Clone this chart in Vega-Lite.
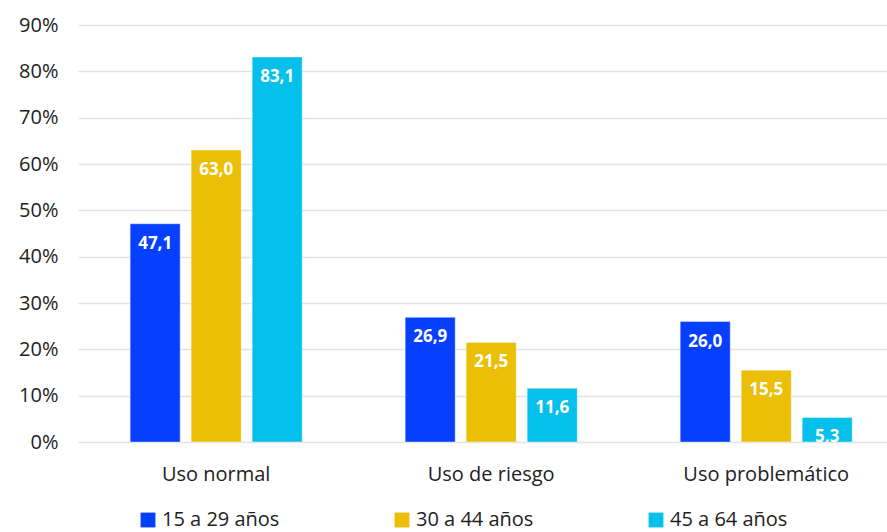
{
  "$schema": "https://vega.github.io/schema/vega-lite/v6.json",
  "width": 809,
  "height": 417,
  "autosize": {"type": "none"},
  "padding": {"left": 78, "top": 25, "right": 0, "bottom": 90},
  "background": "white",
  "config": {
    "view": {"stroke": null},
    "font": "Open Sans",
    "locale": {"number": {"decimal": ",", "thousands": ".", "grouping": [3], "currency": ["", " €"]}}
  },
  "data": {
    "values": [
      {"uso": "Uso normal", "edad": "15 a 29 años", "valor": 47.1},
      {"uso": "Uso normal", "edad": "30 a 44 años", "valor": 63.0},
      {"uso": "Uso normal", "edad": "45 a 64 años", "valor": 83.1},
      {"uso": "Uso de riesgo", "edad": "15 a 29 años", "valor": 26.9},
      {"uso": "Uso de riesgo", "edad": "30 a 44 años", "valor": 21.5},
      {"uso": "Uso de riesgo", "edad": "45 a 64 años", "valor": 11.6},
      {"uso": "Uso problemático", "edad": "15 a 29 años", "valor": 26.0},
      {"uso": "Uso problemático", "edad": "30 a 44 años", "valor": 15.5},
      {"uso": "Uso problemático", "edad": "45 a 64 años", "valor": 5.3}
    ]
  },
  "encoding": {
    "x": {
      "field": "uso", "type": "nominal", "sort": null,
      "scale": {"paddingInner": 0.3745, "paddingOuter": 0.158, "align": 0.6},
      "axis": {"title": null, "labelAngle": 0, "labelFontSize": 20, "labelColor": "#222222", "domain": false, "ticks": false, "labelPadding": 22}
    },
    "xOffset": {"field": "edad", "type": "nominal", "sort": null, "scale": {"paddingInner": 0.18, "paddingOuter": 0}},
    "y": {
      "field": "valor", "type": "quantitative",
      "scale": {"domain": [0, 90], "nice": false},
      "axis": {"title": null, "values": [0, 10, 20, 30, 40, 50, 60, 70, 80, 90], "labelExpr": "datum.value + '%'", "labelFontSize": 20, "labelColor": "#222222", "domain": false, "ticks": false, "labelPadding": 20, "gridColor": "#e3e3e3", "gridWidth": 1.5}
    }
  },
  "layer": [
    {
      "mark": {"type": "bar", "stroke": "white", "strokeOpacity": 0.4, "strokeWidth": 1},
      "encoding": {
        "color": {
          "field": "edad", "type": "nominal", "sort": null,
          "scale": {"range": ["#063ffe", "#ebbf05", "#05c0eb"]},
          "legend": {
            "title": null, "orient": "none", "direction": "horizontal",
            "legendX": 60, "legendY": 485,
            "symbolType": "square", "symbolSize": 220, "symbolStrokeWidth": 0,
            "labelFontSize": 20, "labelColor": "#222222", "labelOffset": 4,
            "columnPadding": 112, "labelLimit": 300
          }
        }
      }
    },
    {
      "mark": {"type": "text", "color": "white", "fontWeight": "bold", "fontSize": 17, "baseline": "middle", "dy": 20},
      "encoding": {
        "text": {"field": "valor", "type": "quantitative", "format": ".1f"}
      }
    }
  ]
}
